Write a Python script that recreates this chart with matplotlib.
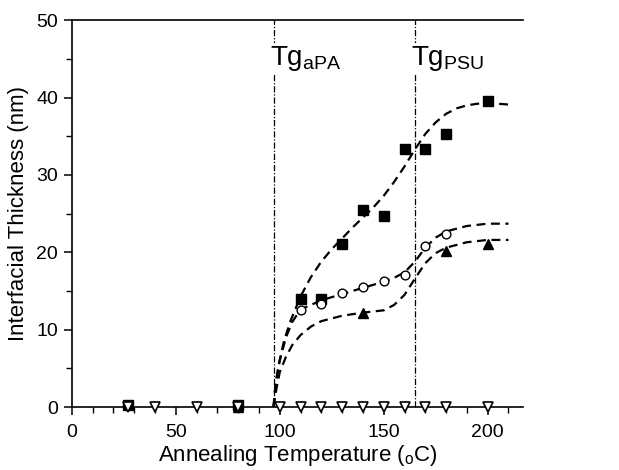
import matplotlib.pyplot as plt

plt.rcParams['font.family'] = ['Liberation Sans', 'DejaVu Sans']

# measured points
sq_x = [27, 80, 110, 120, 130, 140, 150, 160, 170, 180, 200]
sq_y = [0.3, 0.3, 13.9, 14.0, 21.1, 25.5, 24.7, 33.4, 33.3, 35.3, 39.5]
circ_x = [110, 120, 130, 140, 150, 160, 170, 180]
circ_y = [12.6, 13.3, 14.7, 15.5, 16.3, 17.1, 20.8, 22.4]
tri_x = [80, 140, 180, 200]
tri_y = [0.0, 12.2, 20.2, 21.1]
zero_x = [27, 40, 60, 80, 100, 110, 120, 130, 140, 150, 160, 170, 180, 200]
zero_y = [0] * len(zero_x)

# fitted curves
fitA_x = [97, 98, 99.5, 102, 105, 110, 115, 120, 125, 130, 135, 140, 145, 150,
          155, 160, 165, 170, 175, 180, 185, 190, 195, 200, 210]
fitA_y = [0, 3, 5.5, 8.5, 11, 14.3, 16.8, 18.8, 20.4, 21.8, 23.2, 24.5, 25.8, 27.3,
          29.1, 31.1, 33.3, 35.3, 36.8, 37.9, 38.6, 39.0, 39.2, 39.3, 39.1]
fitB_x = [97, 98, 100, 103, 106, 110, 115, 120, 130, 140, 150, 155, 160, 165,
          170, 175, 180, 190, 200, 210]
fitB_y = [0, 3, 6, 9, 11, 12.6, 13.2, 13.8, 14.6, 15.4, 16.2, 16.7, 17.4, 18.8,
          20.6, 21.9, 22.7, 23.4, 23.7, 23.7]
fitC_x = [97, 98.5, 100, 103, 106, 110, 115, 120, 130, 140, 150, 155, 160, 165,
          170, 175, 180, 190, 200, 210]
fitC_y = [0, 2.5, 4.5, 6.5, 8, 9.3, 10.4, 11.1, 11.8, 12.2, 12.5, 13.2, 14.5, 16.6,
          18.6, 19.9, 20.6, 21.3, 21.6, 21.6]

tg_apa = 97
tg_psu = 165

fig = plt.figure(figsize=(6.19, 4.70), dpi=100)
ax = fig.add_axes([0.116, 0.134, 0.729, 0.823])

dash = (0, (4, 2.5))
for fx, fy in [(fitA_x, fitA_y), (fitB_x, fitB_y), (fitC_x, fitC_y)]:
    ax.plot(fx, fy, color='black', lw=1.6, linestyle=dash, zorder=2)

for xv in [tg_apa, tg_psu]:
    ax.axvline(xv, color='black', lw=0.9, linestyle=(0, (5, 1.5, 1, 1.5)), zorder=1)

ax.plot(sq_x, sq_y, 's', color='black', ms=6.5, clip_on=False, zorder=3)
ax.plot(circ_x, circ_y, 'o', mfc='white', mec='black', mew=1.0, ms=6.3,
        clip_on=False, zorder=4)
ax.plot(tri_x, tri_y, '^', color='black', ms=7, clip_on=False, zorder=3)
ax.plot(zero_x, zero_y, 'v', mfc='white', mec='black', mew=1.2, ms=7.5,
        clip_on=False, zorder=5)

ax.text(95.3, 45.0, r'Tg$\mathregular{_{aPA}}$', fontsize=20, va='center', ha='left',
        bbox=dict(facecolor='white', edgecolor='none', pad=1), zorder=6)
ax.text(163.3, 45.0, r'Tg$\mathregular{_{PSU}}$', fontsize=20, va='center', ha='left',
        bbox=dict(facecolor='white', edgecolor='none', pad=1), zorder=6)

ax.set_xlim(0, 217)
ax.set_ylim(0, 50)
ax.set_xticks([0, 50, 100, 150, 200])
ax.set_xticks(range(0, 217, 10), minor=True)
ax.set_yticks([0, 10, 20, 30, 40, 50])
ax.set_yticks(range(0, 51, 5), minor=True)
ax.tick_params(axis='both', which='major', direction='out', length=6, width=1.1,
               labelsize=14, colors='black', pad=4)
ax.tick_params(axis='x', which='major', pad=6)
ax.tick_params(axis='both', which='minor', direction='out', length=4, width=1.0)
ax.spines['right'].set_visible(False)
for s in ['left', 'top', 'bottom']:
    ax.spines[s].set_linewidth(1.2)

ax.set_xlabel(r'Annealing Temperature ($\mathregular{_o}$C)', fontsize=16, labelpad=2)
ax.set_ylabel('Interfacial Thickness (nm)', fontsize=16, labelpad=5)

fig.savefig('out.png', dpi=100)
